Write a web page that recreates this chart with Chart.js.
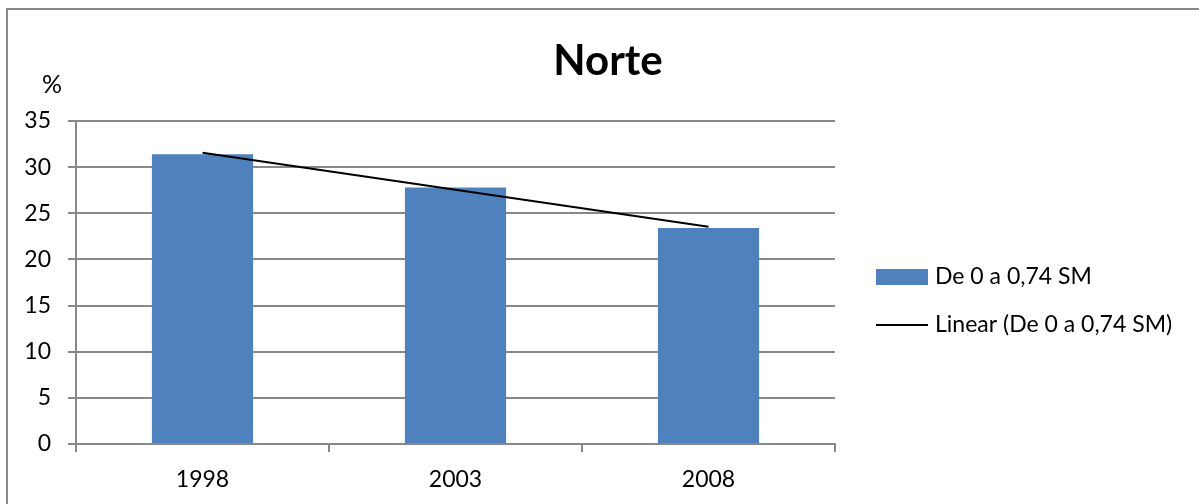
<!DOCTYPE html>
<html>
<head>
<meta charset="utf-8">
<title>Norte</title>
<script src="https://cdn.jsdelivr.net/npm/chart.js@4.4.1/dist/chart.umd.min.js"></script>
<style>
    body { margin: 0; width: 1199px; height: 504px; overflow: hidden; background: #fff; position: relative; }
    #frame { position: absolute; left: 6px; top: 8px; width: 1300px; height: 600px; border: 2px solid #888; box-sizing: border-box; }
    #wrap { position: absolute; left: 0; top: 0; width: 1199px; height: 504px; }
</style>
</head>
<body>
<div id="frame"></div>
<div id="wrap"><canvas id="chart" width="1199" height="504"></canvas></div>
<script>
// data
const years = ["1998", "2003", "2008"];
const shareLow = [31.4, 27.8, 23.4];
const trendLow = [31.55, 27.55, 23.55];
const seriesName = "De 0 a 0,74 SM";
const trendName = "Linear (De 0 a 0,74 SM)";

const gridColor = "#888888";
const barColor = "#4F81BD";
const fontFamily = "Lato, 'Open Sans', sans-serif";

// title, unit label and legend drawn straight on the canvas
const decor = {
    id: "decor",
    afterDraw(chart) {
        let ctx = chart.ctx;
        ctx.save();
        ctx.fillStyle = "#000";

        ctx.font = "bold 42px " + fontFamily;
        ctx.textAlign = "center";
        ctx.textBaseline = "alphabetic";
        ctx.fillText("Norte", 608, 75);

        ctx.font = "25px " + fontFamily;
        ctx.textBaseline = "middle";
        ctx.fillText("%", 52, 85);

        ctx.font = "23px " + fontFamily;
        ctx.textAlign = "left";
        ctx.fillStyle = barColor;
        ctx.fillRect(876, 269, 52, 16);
        ctx.fillStyle = "#000";
        ctx.fillText(chart.data.datasets[1].label, 935, 277);

        ctx.strokeStyle = "#000";
        ctx.lineWidth = 2;
        ctx.beginPath();
        ctx.moveTo(876, 325);
        ctx.lineTo(928, 325);
        ctx.stroke();
        ctx.fillText(chart.data.datasets[0].label, 935, 325);
        ctx.restore();
    }
};

let ctx = document.getElementById("chart").getContext("2d");
new Chart(ctx, {
    type: "bar",
    data: {
        labels: years,
        datasets: [{
            type: "line",
            label: trendName,
            data: trendLow,
            borderColor: "#000",
            borderWidth: 2,
            pointRadius: 0,
            fill: false,
            tension: 0,
            order: 0
        }, {
            label: seriesName,
            data: shareLow,
            backgroundColor: barColor,
            borderWidth: 0,
            categoryPercentage: 1,
            barPercentage: 0.4,
            order: 1
        }]
    },
    options: {
        responsive: false,
        animation: false,
        layout: { padding: { top: 121, right: 364, left: 0, bottom: 0 } },
        plugins: {
            legend: { display: false },
            title: { display: false },
            tooltip: { enabled: false }
        },
        scales: {
            x: {
                offset: true,
                grid: { offset: true, drawOnChartArea: false, tickLength: 8, color: gridColor, lineWidth: 2 },
                border: { color: gridColor, width: 2 },
                ticks: { color: "#000", font: { family: fontFamily, size: 23 }, padding: 14 },
                afterFit: function (scale) { scale.height = 60; }
            },
            y: {
                min: 0,
                max: 35,
                ticks: { stepSize: 5, color: "#000", font: { family: fontFamily, size: 23 }, padding: 17 },
                grid: { color: gridColor, lineWidth: 2, tickLength: 8 },
                border: { color: gridColor, width: 2 },
                afterFit: function (scale) { scale.width = 76; }
            }
        }
    },
    plugins: [decor]
});
</script>
</body>
</html>
